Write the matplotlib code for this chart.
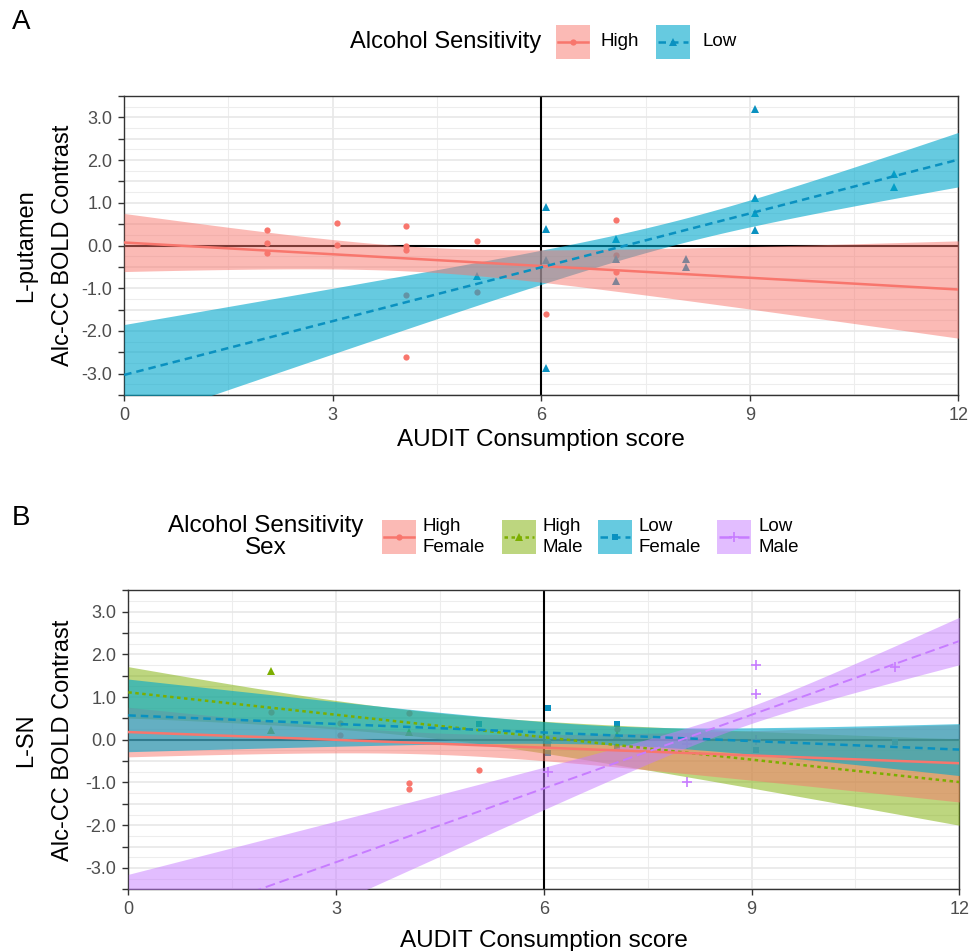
import numpy as np
import matplotlib
matplotlib.use("Agg")
import matplotlib.pyplot as plt
from matplotlib.patches import Rectangle
from matplotlib.lines import Line2D

plt.rcParams['font.family'] = ['Liberation Sans', 'DejaVu Sans']

# ---------------- data ----------------
# Panel A (L-putamen): points
a_high_x = [2.06, 2.06, 2.06, 3.06, 3.06, 4.06, 4.06, 4.06, 4.06, 4.06, 5.07, 5.07, 6.07, 7.08, 7.08, 7.08]
a_high_y = [0.36, 0.05, -0.17, 0.52, 0.01, 0.46, -0.02, -0.11, -1.16, -2.62, 0.11, -1.09, -1.61, 0.60, -0.23, -0.63]
a_low_x = [5.07, 6.07, 6.07, 6.07, 6.07, 7.08, 7.08, 7.08, 8.08, 8.08, 9.08, 9.08, 9.08, 9.08, 11.08, 11.08]
a_low_y = [-0.72, 0.91, 0.39, -0.34, -2.86, 0.15, -0.32, -0.82, -0.32, -0.50, 3.20, 1.12, 0.77, 0.36, 1.68, 1.36]

# Panel B (L-SN): points
b_hf_x = [2.06, 3.06, 3.06, 4.06, 4.06, 4.06, 5.06, 7.06]
b_hf_y = [0.66, 0.39, 0.12, 0.62, -1.02, -1.16, -0.71, 0.24]
b_hm_x = [2.06, 2.06, 4.06, 6.06, 7.06]
b_hm_y = [1.60, 0.23, 0.18, 0.02, 0.12]
b_lf_x = [5.06, 6.06, 6.06, 6.06, 7.06, 7.06, 9.06, 11.07]
b_lf_y = [0.36, 0.74, -0.11, -0.30, 0.38, -0.16, -0.25, -0.06]
b_lm_x = [6.06, 8.07, 8.07, 9.07, 9.07, 9.07, 11.07]
b_lm_y = [-0.75, -0.09, -0.99, 1.74, 1.06, -0.01, 1.70]

# linear fits (intercept, slope) and 95% CI band: x of narrowest point,
# half width there, half width at x = 0
a_high_fit = [0.07, -0.0917, 4.3, 0.29, 0.68]
a_low_fit = [-3.03, 0.42, 8.0, 0.28, 1.18]
b_hf_fit = [0.18, -0.0608, 4.5, 0.25, 0.58]
b_hm_fit = [1.11, -0.175, 4.2, 0.30, 0.60]
b_lf_fit = [0.57, -0.0667, 7.1, 0.22, 0.85]
b_lm_fit = [-4.59, 0.575, 8.8, 0.20, 1.44]

x_ticks = [0, 3, 6, 9, 12]

RED = '#F8766D'
GREEN = '#7CAE00'
BLUE = '#0A91C0'
BLUE_FILL = '#00A8CC'
PURPLE = '#C77CFF'

W, H = 974, 951


def px(x, y):
    return x / W, 1 - y / H


def band(fit, xs):
    a, b, xc, hmin, h0 = fit
    k = (h0 ** 2 - hmin ** 2) / xc ** 2
    half = np.sqrt(hmin ** 2 + k * (xs - xc) ** 2)
    mid = a + b * xs
    return mid, mid - half, mid + half


def style_axes(ax):
    ax.set_xlim(0, 12)
    ax.set_ylim(-3.5, 3.5)
    ax.set_xticks(x_ticks)
    ax.set_xticks([1.5, 4.5, 7.5, 10.5], minor=True)
    yt = np.arange(-3.5, 3.51, 0.5)
    ax.set_yticks(yt)
    ax.set_yticklabels([f"{v:.1f}" if abs(v - round(v)) < 1e-6 else '' for v in yt])
    ax.set_yticks(np.arange(-3.25, 3.3, 0.5), minor=True)
    ax.tick_params(which='major', length=4.5, width=1.0, color='#333333',
                   labelsize=13, labelcolor='#4D4D4D', pad=4)
    ax.tick_params(which='minor', length=0)
    ax.grid(which='major', color='#E6E6E6', lw=1.1)
    ax.grid(which='minor', color='#EDEDED', lw=0.8)
    ax.set_axisbelow(True)
    for s in ax.spines.values():
        s.set_color('#333333')
        s.set_linewidth(1.0)
    ax.axhline(0, color='black', lw=1.5, zorder=1.5)
    ax.axvline(6, color='black', lw=1.5, zorder=1.5)


xs = np.linspace(0, 12, 200)

fig = plt.figure(figsize=(W / 100, H / 100), dpi=100)

# ---------------- Panel A ----------------
axA = fig.add_axes([124.2 / W, 1 - 395 / H, 834.1 / W, 299 / H])
style_axes(axA)
axA.plot(a_high_x, a_high_y, 'o', color=RED, ms=4.5, mew=0, zorder=2)
axA.plot(a_low_x, a_low_y, '^', color=BLUE, ms=5.5, mew=0, zorder=2)
m, lo, hi = band(a_low_fit, xs)
axA.fill_between(xs, lo, hi, color=BLUE_FILL, alpha=0.6, lw=0, zorder=3)
m, lo, hi = band(a_high_fit, xs)
axA.fill_between(xs, lo, hi, color=RED, alpha=0.5, lw=0, zorder=3)
m, lo, hi = band(a_high_fit, xs)
axA.plot(xs, m, color=RED, lw=1.8, zorder=4)
m, lo, hi = band(a_low_fit, xs)
axA.plot(xs, m, color=BLUE, lw=1.8, dashes=(3, 2), zorder=4)

# ---------------- Panel B ----------------
axB = fig.add_axes([128.3 / W, 1 - 889.3 / H, 831 / W, 299.1 / H])
style_axes(axB)
axB.plot(b_hf_x, b_hf_y, 'o', color=RED, ms=4.5, mew=0, zorder=2)
axB.plot(b_hm_x, b_hm_y, '^', color=GREEN, ms=5.5, mew=0, zorder=2)
axB.plot(b_lf_x, b_lf_y, 's', color=BLUE, ms=4.5, mew=0, zorder=2)
axB.plot(b_lm_x, b_lm_y, '+', color=PURPLE, ms=7, mew=1.2, zorder=2)

groupsB = [(b_hm_fit, GREEN, 0.5, GREEN, (1.4, 1.4), 1.8),
           (b_hf_fit, RED, 0.5, RED, None, 1.8),
           (b_lf_fit, BLUE_FILL, 0.6, BLUE, (3, 2), 1.8),
           (b_lm_fit, PURPLE, 0.5, PURPLE, (5, 2.5), 1.4)]
for fit, fc, al, lc, ds, lw in groupsB:
    m, lo, hi = band(fit, xs)
    axB.fill_between(xs, lo, hi, color=fc, alpha=al, lw=0, zorder=3)
for fit, fc, al, lc, ds, lw in groupsB:
    m, lo, hi = band(fit, xs)
    if ds is None:
        axB.plot(xs, m, color=lc, lw=lw, zorder=4)
    else:
        axB.plot(xs, m, color=lc, lw=lw, dashes=ds, zorder=4)

# ---------------- titles and labels ----------------
fig.text(*px(12, 22), 'A', fontsize=20, ha='left', va='center')
fig.text(*px(12, 518), 'B', fontsize=20, ha='left', va='center')

fig.text(*px(541, 440), 'AUDIT Consumption score', fontsize=17.5, ha='center', va='center')
fig.text(*px(544, 941), 'AUDIT Consumption score', fontsize=17.5, ha='center', va='center')
fig.text(*px(63, 245.5), 'Alc-CC BOLD Contrast', fontsize=17, rotation=90, ha='center', va='center')
fig.text(*px(63, 740), 'Alc-CC BOLD Contrast', fontsize=17, rotation=90, ha='center', va='center')
fig.text(*px(26, 245.5), 'L-putamen', fontsize=17, rotation=90, ha='center', va='center')
fig.text(*px(26, 740), 'L-SN', fontsize=17, rotation=90, ha='center', va='center')


def legend_key(x0, y0, w, h, fc, al, lc, marker, ds, ms):
    fig.patches.append(Rectangle(px(x0, y0 + h), w / W, h / H, transform=fig.transFigure,
                                 facecolor=fc, alpha=al, edgecolor='none'))
    yc = y0 + h / 2
    (lx0, ly), (lx1, _) = px(x0 + 2, yc), px(x0 + w - 2, yc)
    kw = dict(color=lc, lw=1.8, transform=fig.transFigure)
    if ds is not None:
        kw['dashes'] = ds
    fig.lines.append(Line2D([lx0, lx1], [ly, ly], **kw))
    mx, my = px(x0 + w / 2, yc)
    fig.lines.append(Line2D([mx], [my], marker=marker, color=lc, ms=ms, mew=1.2 if marker == '+' else 0,
                            ls='none', transform=fig.transFigure))


# legend A
fig.text(*px(350, 42), 'Alcohol Sensitivity', fontsize=17, ha='left', va='center')
legend_key(556, 25, 34, 34, RED, 0.5, RED, 'o', None, 4.5)
fig.text(*px(601, 42), 'High', fontsize=13.5, ha='left', va='center')
legend_key(656, 25, 34, 34, BLUE_FILL, 0.6, BLUE, '^', (3, 2), 5.5)
fig.text(*px(702, 42), 'Low', fontsize=13.5, ha='left', va='center')

# legend B
fig.text(*px(266, 537), 'Alcohol Sensitivity\nSex', fontsize=17.5, ha='center', va='center',
         linespacing=0.95)
keysB = [(382, RED, 0.5, RED, 'o', None, 4.5, 'High\nFemale'),
         (502, GREEN, 0.5, GREEN, '^', (1.4, 1.4), 5.5, 'High\nMale'),
         (598, BLUE_FILL, 0.6, BLUE, 's', (3, 2), 4.5, 'Low\nFemale'),
         (717, PURPLE, 0.5, PURPLE, '+', (5, 2.5), 7, 'Low\nMale')]
for x0, fc, al, lc, mk, ds, ms, lab in keysB:
    legend_key(x0, 520, 34, 34, fc, al, lc, mk, ds, ms)
    fig.text(*px(x0 + 41, 537), lab, fontsize=13.5, ha='left', va='center', linespacing=1.25)

fig.savefig('out.png', dpi=100)
